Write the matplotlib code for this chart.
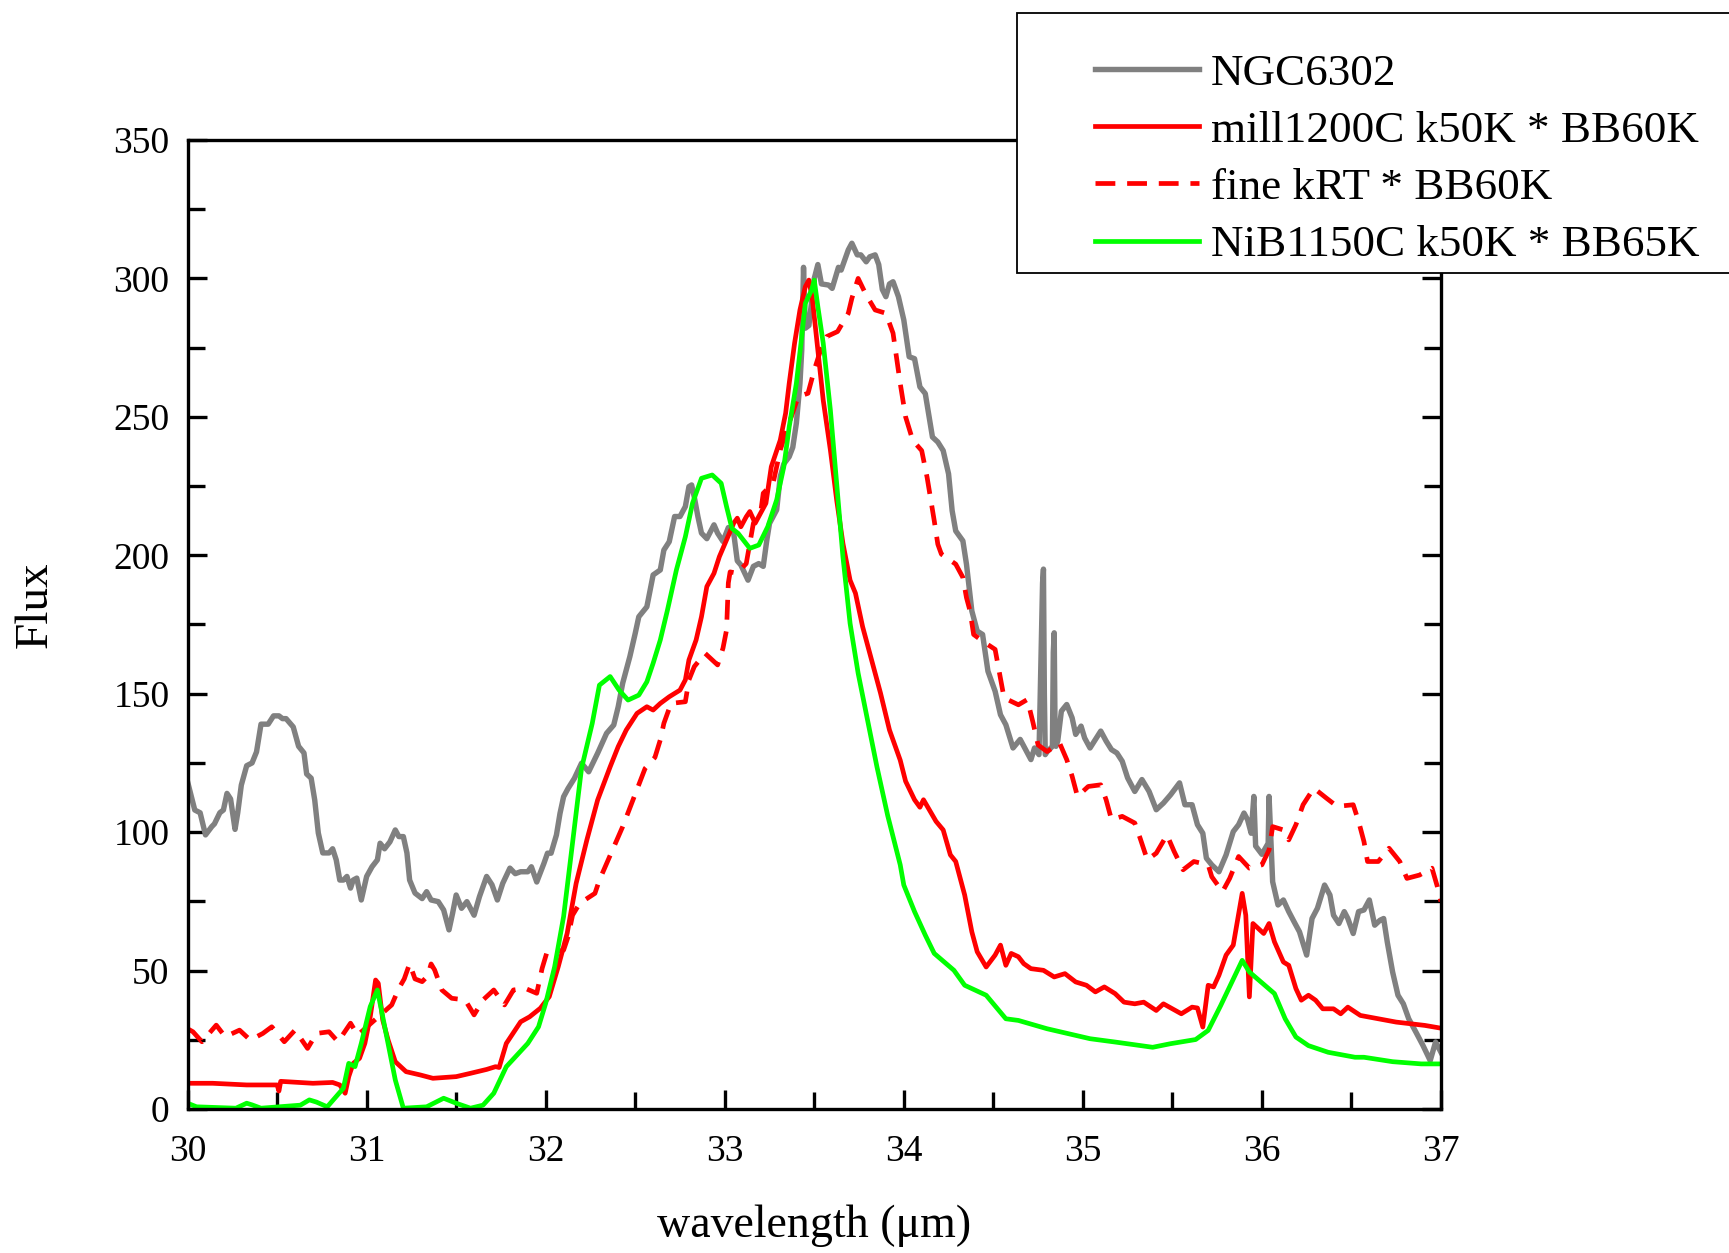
import matplotlib
matplotlib.use("Agg")
import matplotlib.pyplot as plt
from matplotlib.patches import Rectangle
from matplotlib.ticker import MultipleLocator

plt.rcParams['font.family'] = ['Liberation Serif', 'DejaVu Serif']

# -----------------------------------
# DATA
# -----------------------------------
ngc_x = [30.00, 30.04, 30.07, 30.10, 30.135, 30.15, 30.18, 30.20, 30.22, 30.24,
         30.265, 30.28, 30.30, 30.33, 30.36, 30.385, 30.41, 30.45, 30.48, 30.51,
         30.53, 30.55, 30.59, 30.62, 30.65, 30.665, 30.69, 30.71, 30.73, 30.755,
         30.79, 30.81, 30.83, 30.85, 30.87, 30.89, 30.91, 30.925, 30.945, 30.97,
         31.00, 31.03, 31.06, 31.075, 31.10, 31.13, 31.16, 31.18, 31.205, 31.225,
         31.24, 31.27, 31.31, 31.335, 31.36, 31.40, 31.43, 31.46, 31.48, 31.50,
         31.53, 31.56, 31.60, 31.63, 31.67, 31.70, 31.73, 31.76, 31.80, 31.83,
         31.86, 31.90, 31.92, 31.95, 31.99, 32.01, 32.03, 32.06, 32.08, 32.10,
         32.125, 32.16, 32.20, 32.24, 32.29, 32.34, 32.38, 32.405, 32.43, 32.47,
         32.50, 32.52, 32.565, 32.58, 32.60, 32.64, 32.66, 32.69, 32.72, 32.75,
         32.78, 32.80, 32.815, 32.83, 32.85, 32.87, 32.90, 32.94, 32.96, 32.99,
         33.02, 33.05, 33.07, 33.09, 33.13, 33.16, 33.19, 33.215, 33.235, 33.25,
         33.29, 33.31, 33.33, 33.36, 33.38, 33.40, 33.42, 33.43, 33.44, 33.45,
         33.47, 33.50, 33.52, 33.54, 33.58, 33.60, 33.635, 33.65, 33.69, 33.71,
         33.74, 33.76, 33.79, 33.81, 33.84, 33.86, 33.88, 33.90, 33.92, 33.94,
         33.97, 34.00, 34.03, 34.06, 34.09, 34.12, 34.16, 34.19, 34.22, 34.25,
         34.27, 34.29, 34.33, 34.35, 34.38, 34.41, 34.44, 34.47, 34.51, 34.54,
         34.57, 34.61, 34.65, 34.71, 34.73, 34.755, 34.775, 34.78, 34.785, 34.79,
         34.80, 34.83, 34.835, 34.84, 34.845, 34.85, 34.86, 34.88, 34.91, 34.94,
         34.96, 34.99, 35.01, 35.04, 35.10, 35.13, 35.16, 35.19, 35.22, 35.25,
         35.29, 35.33, 35.37, 35.41, 35.45, 35.49, 35.54, 35.57, 35.61, 35.64,
         35.67, 35.69, 35.72, 35.76, 35.80, 35.84, 35.87, 35.90, 35.92, 35.94,
         35.955, 35.965, 36.00, 36.035, 36.04, 36.06, 36.09, 36.12, 36.15, 36.18,
         36.21, 36.25, 36.28, 36.31, 36.35, 36.38, 36.40, 36.43, 36.46, 36.48,
         36.51, 36.54, 36.57, 36.60, 36.63, 36.66, 36.68, 36.70, 36.73, 36.76,
         36.79, 36.82, 36.86, 36.90, 36.94, 36.97, 37.00]
ngc_y = [118.2, 108, 107, 99, 102, 103, 107, 108, 114, 112,
         101, 107, 117, 124, 125, 129, 139, 139, 142, 142,
         141, 141, 138, 131, 128.6, 121, 119.5, 111.6, 99.7, 92.5,
         92.5, 94, 90, 82.7, 82.7, 84, 79.8, 82.7, 83.4, 75.5,
         84, 87.5, 90, 96, 94, 96.5, 100.8, 98.4, 98.4, 92.5,
         82.7, 78, 76, 78.5, 75.5, 74.9, 71.9, 64.7, 70.7, 77.3,
         72.5, 74.9, 70, 76.7, 84, 81, 75.5, 81.5, 87, 85,
         85.7, 85.7, 87.5, 82, 88.7, 92.4, 92.4, 99, 106.8, 112.8,
         115.8, 119.4, 124.9, 121.8, 128.5, 135.7, 138.7, 145.3, 153.8, 163.4,
         171.8, 177.8, 181.4, 186.3, 192.9, 194.7, 201.9, 204.9, 214, 214,
         217.6, 224.8, 225.4, 221, 214, 208, 206, 211, 208, 205,
         210, 208, 198, 196.5, 191, 196, 197, 196, 205.5, 211.5,
         216.4, 228.4, 233, 235.6, 239, 247.7, 262, 274, 304, 282,
         283, 300, 305, 298, 297.6, 296.4, 304, 303, 310.3, 312.7,
         308.5, 308.5, 306, 307.8, 308.5, 305, 296, 293.4, 298, 298.8,
         293.4, 285, 271.7, 271, 260.8, 258.4, 242.7, 240.9, 237.8, 229.4,
         216.1, 208.8, 205.2, 196.8, 179.9, 172.6, 171.4, 158.1, 150.9, 142.4,
         138.8, 130.4, 133.5, 126.2, 130.4, 128, 190, 195, 150, 128,
         129, 131, 165, 172, 135, 131, 133, 143.7, 146.1, 141.3,
         135.3, 138.3, 134, 130.4, 136.5, 132.9, 129.8, 128.6, 125.6, 119.6,
         114.7, 119, 114.7, 108.1, 110.5, 113.5, 117.8, 109.9, 109.9, 102.7,
         99.6, 90.6, 88.2, 85.7, 91.8, 100.2, 102.7, 106.9, 104.5, 99.6,
         112.9, 95, 92, 96, 112.9, 82.1, 73.7, 75.5, 71.3, 67.6,
         64, 55.6, 68.8, 72.5, 80.9, 77.3, 70, 67, 71.3, 68.8,
         63.4, 71.3, 71.9, 75.5, 66.4, 68.2, 68.8, 60.4, 49.5, 41.1,
         38, 32.6, 27.8, 22.9, 17.5, 24.2, 20.5]

mill_x = [30.00, 30.14, 30.33, 30.50, 30.51, 30.52, 30.70, 30.81, 30.85, 30.88,
          30.90, 30.925, 30.96, 30.99, 31.02, 31.05, 31.065, 31.09, 31.12, 31.16,
          31.22, 31.30, 31.37, 31.50, 31.58, 31.67, 31.72, 31.74, 31.78, 31.86,
          31.91, 31.97, 32.02, 32.07, 32.12, 32.17, 32.23, 32.29, 32.36, 32.405,
          32.45, 32.51, 32.565, 32.60, 32.64, 32.69, 32.75, 32.78, 32.80, 32.84,
          32.87, 32.90, 32.94, 32.97, 33.01, 33.05, 33.07, 33.09, 33.12, 33.14,
          33.17, 33.20, 33.23, 33.26, 33.31, 33.34, 33.36, 33.39, 33.42, 33.45,
          33.47, 33.49, 33.52, 33.55, 33.59, 33.625, 33.66, 33.70, 33.73, 33.77,
          33.82, 33.87, 33.92, 33.98, 34.01, 34.06, 34.09, 34.11, 34.18, 34.22,
          34.26, 34.29, 34.34, 34.38, 34.41, 34.46, 34.51, 34.54, 34.57, 34.60,
          34.64, 34.67, 34.71, 34.78, 34.84, 34.90, 34.96, 35.02, 35.07, 35.12,
          35.18, 35.23, 35.29, 35.34, 35.41, 35.45, 35.55, 35.61, 35.64, 35.67,
          35.70, 35.73, 35.76, 35.80, 35.84, 35.89, 35.91, 35.93, 35.95, 35.97,
          36.01, 36.04, 36.07, 36.12, 36.15, 36.19, 36.22, 36.26, 36.30, 36.34,
          36.40, 36.44, 36.48, 36.55, 36.65, 36.75, 36.83, 36.91, 37.00]
mill_y = [9.3, 9.3, 8.7, 8.7, 6.5, 10, 9.3, 9.6, 8.7, 5.7,
          11.7, 16.5, 18.3, 23.7, 33.3, 46.6, 45.4, 32.1, 24.9, 17.1,
          13.5, 12.3, 11.1, 11.7, 12.9, 14.3, 15.3, 15, 23.7, 31.5,
          33.3, 36.4, 40.6, 51.4, 63.5, 81.5, 97.2, 111.6, 123.6, 130.9,
          136.9, 142.9, 145.3, 144.1, 146.5, 148.9, 151.3, 155, 162.2, 169.4,
          177.8, 188.7, 193.5, 199.5, 205.5, 211.6, 213.4, 210.3, 213.9, 215.8,
          211.6, 215.2, 218.8, 232, 241.6, 251.3, 262.1, 276.6, 288.6, 297,
          299.4, 292.2, 274.1, 256, 238, 220, 204.3, 191, 186.3, 174.2,
          162.2, 150.2, 136.9, 126, 118.4, 111.7, 109, 111.7, 103.9, 100.8,
          91.8, 89.4, 77.3, 64, 56.8, 51.3, 55.6, 59.2, 51.9, 56.2,
          55, 52.5, 50.7, 50.1, 47.7, 48.9, 45.9, 44.7, 42.3, 44.1,
          41.7, 38.6, 38, 38.6, 35.6, 38, 34.4, 36.8, 36.5, 29.6,
          44.7, 44.1, 48.3, 55.6, 59.2, 77.9, 70, 40.5, 67, 65.8,
          63.4, 67, 60.4, 53.1, 51.9, 43.5, 39.3, 41.1, 39.3, 36.2,
          36.2, 34.4, 36.8, 33.8, 32.6, 31.4, 30.8, 30.2, 29.2]

fine_x = [30.00, 30.03, 30.08, 30.16, 30.21, 30.29, 30.35, 30.42, 30.47, 30.54,
          30.60, 30.67, 30.72, 30.79, 30.84, 30.91, 30.95, 31.14, 31.18, 31.21,
          31.24, 31.27, 31.31, 31.34, 31.36, 31.38, 31.42, 31.475, 31.55, 31.60,
          31.65, 31.71, 31.77, 31.82, 31.885, 31.95, 31.98, 32.005, 32.10, 32.125,
          32.15, 32.19, 32.275, 32.30, 32.43, 32.555, 32.61, 32.64, 32.66, 32.70,
          32.78, 32.80, 32.83, 32.89, 32.96, 32.99, 33.01, 33.02, 33.03, 33.07,
          33.12, 33.14, 33.16, 33.20, 33.215, 33.27, 33.31, 33.34, 33.41, 33.465,
          33.50, 33.53, 33.57, 33.63, 33.69, 33.71, 33.745, 33.79, 33.84, 33.90,
          33.94, 33.98, 34.01, 34.05, 34.10, 34.13, 34.17, 34.19, 34.21, 34.29,
          34.33, 34.35, 34.37, 34.39, 34.44, 34.51, 34.56, 34.64, 34.69, 34.72,
          34.75, 34.80, 34.87, 34.91, 34.94, 34.97, 35.03, 35.10, 35.13, 35.16,
          35.22, 35.29, 35.32, 35.36, 35.41, 35.47, 35.51, 35.56, 35.62, 35.70,
          35.72, 35.78, 35.82, 35.87, 35.93, 36.00, 36.04, 36.06, 36.12, 36.15,
          36.19, 36.23, 36.29, 36.36, 36.42, 36.51, 36.54, 36.57, 36.59, 36.65,
          36.71, 36.77, 36.81, 36.88, 36.95, 36.98, 37.00]
fine_y = [29, 27.9, 24.3, 30.3, 26.1, 28.5, 24.9, 27.3, 29.7, 24.3,
          28.5, 21.9, 27.3, 27.9, 24.3, 31, 26.7, 37.6, 43.6, 47,
          52.5, 47, 46, 48, 52.4, 50.2, 43, 40, 39.4, 34,
          39.4, 43, 37.6, 43, 43.6, 41.8, 50.8, 56.2, 57.4, 62.2,
          70, 74.3, 77.9, 82.7, 102, 123, 127, 133.3, 139.3, 146.5,
          147.1, 155, 159.8, 164.6, 160.4, 166.4, 173, 190, 194, 193.5,
          197, 204.3, 211.6, 215.2, 222.4, 226, 238, 244, 257.3, 258.5,
          266.9, 273, 279, 280.8, 287.4, 292.8, 300, 294, 288.6, 287.4,
          280.2, 262.1, 250, 241.5, 237.8, 228.2, 212.5, 204, 200.4, 196.8,
          192, 184.7, 179.9, 171.4, 169, 166, 148.5, 146, 147.9, 140,
          131.5, 129.1, 132.2, 126.2, 120.2, 112.9, 116.5, 117.1, 111.7, 104.5,
          105.7, 103.3, 97.8, 90, 92.4, 99, 93, 86.4, 89.4, 88.2,
          83.9, 78.5, 83.3, 91.2, 87, 88.2, 93.6, 102, 100.8, 97.2,
          102.7, 109.9, 115.9, 112.3, 109.3, 109.9, 103.9, 96.6, 89.4, 89.4,
          94.2, 89.4, 83.3, 84.5, 87, 80.3, 74.9]

nib_x = [30.00, 30.05, 30.27, 30.33, 30.36, 30.41, 30.63, 30.68, 30.72, 30.78,
         30.87, 30.90, 30.935, 30.97, 31.02, 31.06, 31.09, 31.16, 31.205, 31.335,
         31.43, 31.50, 31.58, 31.65, 31.71, 31.78, 31.84, 31.90, 31.96, 32.00,
         32.05, 32.10, 32.145, 32.20, 32.26, 32.30, 32.36, 32.41, 32.46, 32.52,
         32.565, 32.60, 32.64, 32.68, 32.73, 32.78, 32.82, 32.87, 32.93, 32.98,
         33.01, 33.04, 33.075, 33.14, 33.19, 33.24, 33.29, 33.33, 33.36, 33.40,
         33.43, 33.45, 33.485, 33.50, 33.52, 33.55, 33.59, 33.625, 33.66, 33.70,
         33.745, 33.79, 33.85, 33.91, 33.98, 34.00, 34.06, 34.12, 34.17, 34.28,
         34.34, 34.46, 34.57, 34.64, 34.80, 34.92, 35.04, 35.18, 35.39, 35.49,
         35.63, 35.70, 35.77, 35.89, 35.93, 36.07, 36.13, 36.19, 36.26, 36.37,
         36.52, 36.57, 36.73, 36.89, 37.00]
nib_y = [2.1, 0.8, 0.3, 2.1, 1.5, 0.3, 1.4, 3.3, 2.5, 0.8,
         7.5, 16.5, 15.3, 23.7, 37, 43, 33.3, 10.5, 0.3, 0.8,
         3.9, 2.1, 0.3, 1.4, 5.7, 15.3, 19.5, 23.7, 29.7, 38.2,
         51.4, 69.5, 93.5, 123, 139.3, 153.1, 156.2, 151.3, 147.7, 149.5,
         154.3, 161, 169.4, 180.2, 194.7, 206.7, 218.8, 227.8, 229, 226,
         217.6, 209.7, 207.9, 202.5, 203.7, 210.3, 220, 232, 246.4, 262.1,
         279, 291, 295.8, 299.4, 289.8, 276.6, 252.4, 226, 199.5, 175.4,
         157.4, 142.9, 123.6, 106, 88.2, 80.9, 71.3, 62.8, 56.2, 50.1,
         44.7, 41.1, 32.6, 32, 29, 27.2, 25.4, 24.2, 22.3, 23.6,
         25.1, 28.4, 37.4, 53.7, 49.5, 41.7, 32.6, 26, 22.9, 20.5,
         18.7, 18.7, 17.1, 16.3, 16.3]

labels = ["NGC6302", "mill1200C k50K * BB60K", "fine kRT * BB60K",
          "NiB1150C k50K * BB65K"]

# -----------------------------------
# FIGURE
# -----------------------------------
fig = plt.figure(figsize=(17.29, 12.53), dpi=100)
ax = fig.add_axes([0.1085, 0.1149, 0.7249, 0.7734])

ax.plot(ngc_x, ngc_y, color='#808080', lw=3.9, label=labels[0])
ax.plot(mill_x, mill_y, color='#ff0000', lw=3.4, label=labels[1])
ax.plot(fine_x, fine_y, color='#ff0000', lw=3.4, ls=(0, (4.2, 2.5)),
        label=labels[2])
ax.plot(nib_x, nib_y, color='#00ff00', lw=3.4, label=labels[3])

ax.set_xlim(30, 37)
ax.set_ylim(0, 350)
ax.xaxis.set_major_locator(MultipleLocator(1))
ax.xaxis.set_minor_locator(MultipleLocator(0.5))
ax.yaxis.set_major_locator(MultipleLocator(50))
ax.yaxis.set_minor_locator(MultipleLocator(25))

ax.tick_params(which='both', direction='in', top=False, right=True,
               width=2.4, labelsize=27)
ax.tick_params(which='major', length=14)
ax.tick_params(which='minor', length=12)
ax.tick_params(axis='y', which='major', pad=13)
ax.tick_params(axis='x', which='major', pad=18)
for s in ax.spines.values():
    s.set_linewidth(2.4)

ax.set_xlabel("wavelength (μm)", fontsize=33, labelpad=26)
ax.set_ylabel("Flux", fontsize=34, labelpad=41)
ax.yaxis.label.set_y(0.52)

# -----------------------------------
# LEGEND (box drawn apart, cut by the right edge as in the original)
# -----------------------------------
box = Rectangle((1017 / 1729, 1 - 273 / 1253), 0.5, 260 / 1253,
                transform=fig.transFigure, facecolor='white',
                edgecolor='black', lw=1.3, zorder=4)
fig.add_artist(box)

leg = fig.legend(loc='upper left', bbox_to_anchor=(1095 / 1729, 1 - 53 / 1253),
                 fontsize=32.5, frameon=False, borderpad=0, labelspacing=0.37,
                 handlelength=2.3, handletextpad=0.26, borderaxespad=0)
leg.set_zorder(5)

plt.savefig("out.png", dpi=100)
plt.close()
